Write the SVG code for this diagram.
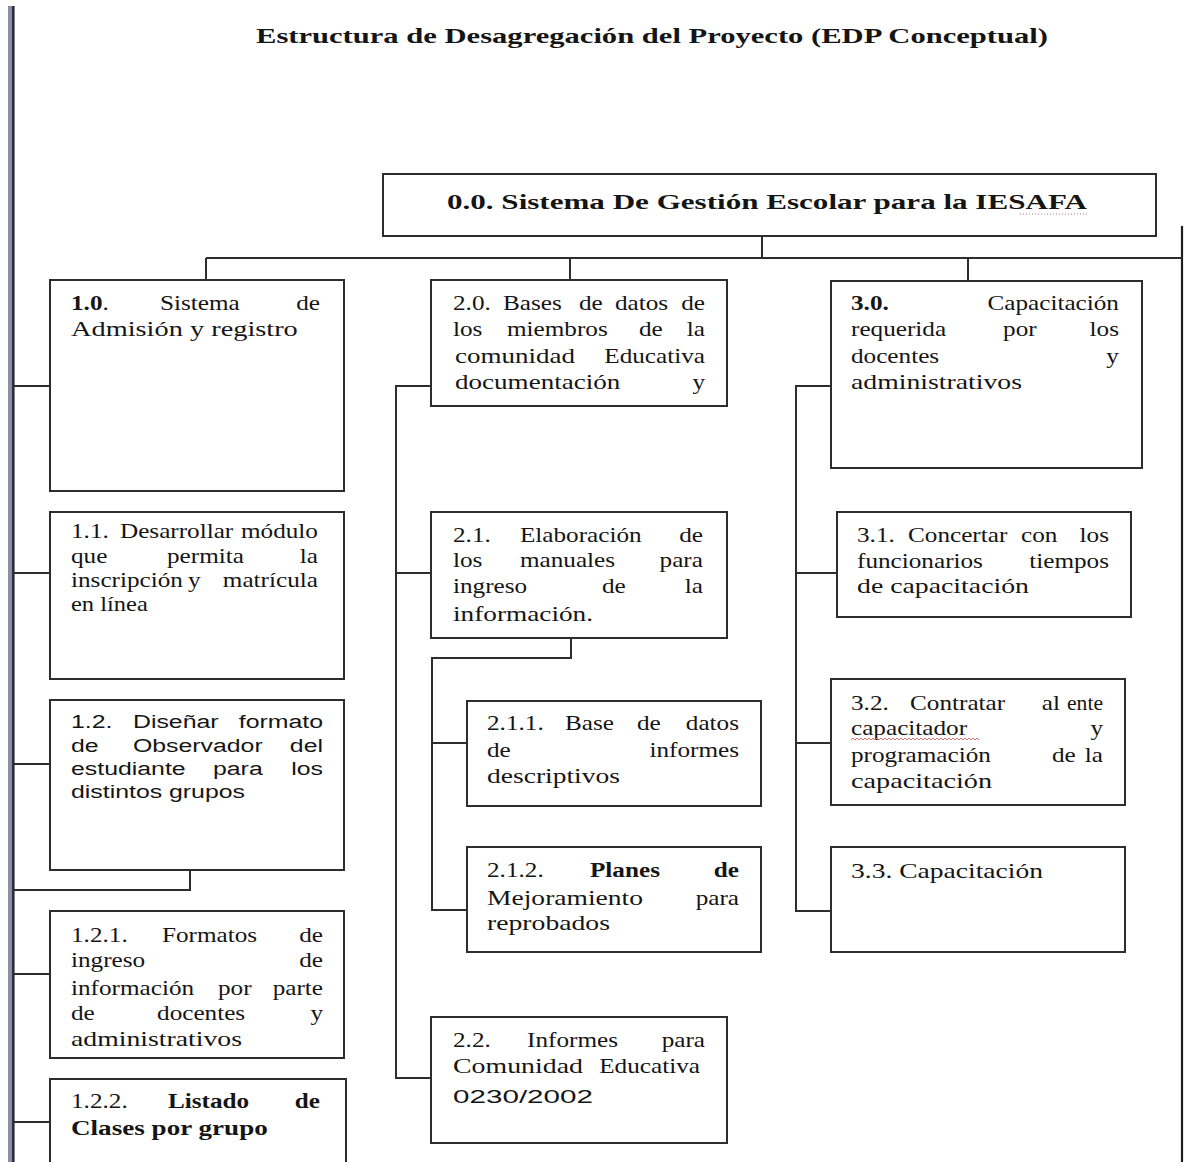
<svg xmlns="http://www.w3.org/2000/svg" width="1184" height="1162" viewBox="0 0 1184 1162">
  <style>
    .box { fill: #ffffff; stroke: #2d2d2d; stroke-width: 2; }
    .wire { fill: none; stroke: #2d2d2d; stroke-width: 2; }
    .t { font-family: "Liberation Serif", "Times New Roman", serif; font-size: 21px; fill: #151515; }
    .s { font-family: "Liberation Sans", Arial, sans-serif; font-size: 18px; fill: #151515; }
    .b { font-weight: bold; }
    .e { text-anchor: end; }
  </style>

  <rect x="0" y="0" width="1184" height="1162" fill="#ffffff"/>

  <!-- page margins -->
  <g id="page-edges">
    <rect x="8" y="6" width="4" height="1156" fill="#8b8fa6"/>
    <rect x="12" y="6" width="2.6" height="1156" fill="#2a2d38"/>
    <line x1="1182" y1="226" x2="1182" y2="1162" stroke="#1e1e1e" stroke-width="2.2"/>
  </g>

  <!-- title -->
  <text id="title" class="t b" x="256" y="43" font-size="25" textLength="792" lengthAdjust="spacingAndGlyphs">Estructura de Desagregación del Proyecto (EDP Conceptual)</text>

  <!-- connectors -->
  <g id="connectors" class="wire">
    <polyline points="762,236 762,258"/>
    <polyline points="206,258 1182,258"/>
    <polyline points="206,258 206,280"/>
    <polyline points="570,258 570,280"/>
    <polyline points="968,258 968,281"/>
    <!-- branch 1 -->
    <polyline points="14,386 50,386"/>
    <polyline points="14,573 50,573"/>
    <polyline points="14,764 50,764"/>
    <polyline points="190,870 190,890 14,890"/>
    <polyline points="14,974 50,974"/>
    <polyline points="14,1122 50,1122"/>
    <!-- branch 2 -->
    <polyline points="431,386 396,386 396,1078 431,1078"/>
    <polyline points="396,573 431,573"/>
    <polyline points="571,638 571,658 432,658 432,910 467,910"/>
    <polyline points="432,743 467,743"/>
    <!-- branch 3 -->
    <polyline points="831,386 796,386 796,911 831,911"/>
    <polyline points="796,573 837,573"/>
    <polyline points="796,743 831,743"/>
  </g>

  <!-- root -->
  <g id="n0">
    <rect class="box" x="383" y="174" width="773" height="62"/>
    <text class="t b" x="447" y="209" textLength="640" lengthAdjust="spacingAndGlyphs">0.0. Sistema De Gestión Escolar para la IESAFA</text>
    <line x1="1020" y1="214" x2="1088" y2="214" stroke="#b07a9a" stroke-width="1.2" stroke-dasharray="1 2"/>
  </g>

  <!-- 1.0 -->
  <g id="n1-0">
    <rect class="box" x="50" y="280" width="294" height="211"/>
    <g class="t" transform="translate(71 0) scale(1.2 1)">
      <text x="0" y="310"><tspan class="b">1.0</tspan>.</text>
      <text x="74.2" y="310">Sistema</text>
      <text class="e" x="207.5" y="310">de</text>
      <text x="0" y="336" textLength="189" lengthAdjust="spacingAndGlyphs">Admisión y registro</text>
    </g>
  </g>

  <!-- 1.1 -->
  <g id="n1-1">
    <rect class="box" x="50" y="512" width="294" height="167"/>
    <g class="t" transform="translate(71 0) scale(1.2 1)">
      <text x="0" y="538">1.1.</text>
      <text x="40.8" y="538">Desarrollar</text>
      <text class="e" x="205.8" y="538">módulo</text>
      <text x="0" y="563">que</text>
      <text x="80" y="563">permita</text>
      <text class="e" x="205.8" y="563">la</text>
      <text x="0" y="587">inscripción</text>
      <text x="97.5" y="587">y</text>
      <text class="e" x="205.8" y="587">matrícula</text>
      <text x="0" y="611" textLength="64" lengthAdjust="spacingAndGlyphs">en línea</text>
    </g>
  </g>

  <!-- 1.2 -->
  <g id="n1-2">
    <rect class="box" x="50" y="700" width="294" height="170"/>
    <g class="s" transform="translate(71 0) scale(1.38 1)">
      <text x="0" y="728">1.2.</text>
      <text x="44.9" y="728">Diseñar</text>
      <text class="e" x="182.6" y="728">formato</text>
      <text x="0" y="752">de</text>
      <text x="44.9" y="752">Observador</text>
      <text class="e" x="182.6" y="752">del</text>
      <text x="0" y="775">estudiante</text>
      <text x="102.9" y="775">para</text>
      <text class="e" x="182.6" y="775">los</text>
      <text x="0" y="798">distintos grupos</text>
    </g>
  </g>

  <!-- 1.2.1 -->
  <g id="n1-2-1">
    <rect class="box" x="50" y="911" width="294" height="147"/>
    <g class="t" transform="translate(71 0) scale(1.2 1)">
      <text x="0" y="942">1.2.1.</text>
      <text x="75.8" y="942">Formatos</text>
      <text class="e" x="210" y="942">de</text>
      <text x="0" y="967">ingreso</text>
      <text class="e" x="210" y="967">de</text>
      <text x="0" y="995">información</text>
      <text x="122.5" y="995">por</text>
      <text class="e" x="210" y="995">parte</text>
      <text x="0" y="1020">de</text>
      <text x="71.7" y="1020">docentes</text>
      <text class="e" x="210" y="1020">y</text>
      <text x="0" y="1046" textLength="142.5" lengthAdjust="spacingAndGlyphs">administrativos</text>
    </g>
  </g>

  <!-- 1.2.2 -->
  <g id="n1-2-2">
    <rect class="box" x="50" y="1079" width="296" height="100"/>
    <g class="t" transform="translate(71 0) scale(1.2 1)">
      <text x="0" y="1108">1.2.2.</text>
      <text class="b" x="80.8" y="1108">Listado</text>
      <text class="b e" x="207.5" y="1108">de</text>
      <text class="b" x="0" y="1135" textLength="164" lengthAdjust="spacingAndGlyphs">Clases por grupo</text>
    </g>
  </g>

  <!-- 2.0 -->
  <g id="n2-0">
    <rect class="box" x="431" y="280" width="296" height="126"/>
    <g class="t" transform="translate(453 0) scale(1.2 1)">
      <text x="0" y="310">2.0.</text>
      <text x="41.7" y="310">Bases</text>
      <text x="105" y="310">de</text>
      <text x="135" y="310">datos</text>
      <text class="e" x="210" y="310">de</text>
      <text x="0" y="336">los</text>
      <text x="45" y="336">miembros</text>
      <text x="155" y="336">de</text>
      <text class="e" x="210" y="336">la</text>
      <text x="1.7" y="363" textLength="100" lengthAdjust="spacingAndGlyphs">comunidad</text>
      <text class="e" x="210" y="363">Educativa</text>
      <text x="1.7" y="389" textLength="137.7" lengthAdjust="spacingAndGlyphs">documentación</text>
      <text class="e" x="210" y="389">y</text>
    </g>
  </g>

  <!-- 2.1 -->
  <g id="n2-1">
    <rect class="box" x="431" y="512" width="296" height="126"/>
    <g class="t" transform="translate(453 0) scale(1.2 1)">
      <text x="0" y="542">2.1.</text>
      <text x="55.8" y="542">Elaboración</text>
      <text class="e" x="208.3" y="542">de</text>
      <text x="0" y="567">los</text>
      <text x="55.8" y="567">manuales</text>
      <text class="e" x="208.3" y="567">para</text>
      <text x="0" y="593">ingreso</text>
      <text x="124.2" y="593">de</text>
      <text class="e" x="208.3" y="593">la</text>
      <text x="0" y="621" textLength="116.7" lengthAdjust="spacingAndGlyphs">información.</text>
    </g>
  </g>

  <!-- 2.1.1 -->
  <g id="n2-1-1">
    <rect class="box" x="467" y="701" width="294" height="105"/>
    <g class="t" transform="translate(487 0) scale(1.2 1)">
      <text x="0" y="730">2.1.1.</text>
      <text x="65" y="730">Base</text>
      <text x="125" y="730">de</text>
      <text class="e" x="210" y="730">datos</text>
      <text x="0" y="757">de</text>
      <text class="e" x="210" y="757">informes</text>
      <text x="0" y="783" textLength="110.8" lengthAdjust="spacingAndGlyphs">descriptivos</text>
    </g>
  </g>

  <!-- 2.1.2 -->
  <g id="n2-1-2">
    <rect class="box" x="467" y="847" width="294" height="105"/>
    <g class="t" transform="translate(487 0) scale(1.2 1)">
      <text x="0" y="877">2.1.2.</text>
      <text class="b" x="85.8" y="877">Planes</text>
      <text class="b e" x="210" y="877">de</text>
      <text x="0" y="905" textLength="130" lengthAdjust="spacingAndGlyphs">Mejoramiento</text>
      <text class="e" x="210" y="905">para</text>
      <text x="0" y="930" textLength="102.5" lengthAdjust="spacingAndGlyphs">reprobados</text>
    </g>
  </g>

  <!-- 2.2 -->
  <g id="n2-2">
    <rect class="box" x="431" y="1017" width="296" height="126"/>
    <g class="t" transform="translate(453 0) scale(1.2 1)">
      <text x="0" y="1047">2.2.</text>
      <text x="61.7" y="1047">Informes</text>
      <text class="e" x="210" y="1047">para</text>
      <text x="0" y="1073" textLength="108.3" lengthAdjust="spacingAndGlyphs">Comunidad</text>
      <text class="e" x="205.8" y="1073">Educativa</text>
    </g>
    <text class="s" x="453" y="1103" font-size="24" textLength="140" lengthAdjust="spacingAndGlyphs">0230/2002</text>
  </g>

  <!-- 3.0 -->
  <g id="n3-0">
    <rect class="box" x="831" y="281" width="311" height="187"/>
    <g class="t" transform="translate(851 0) scale(1.2 1)">
      <text class="b" x="0" y="310">3.0.</text>
      <text class="e" x="223.3" y="310">Capacitación</text>
      <text x="0" y="336">requerida</text>
      <text x="126.7" y="336">por</text>
      <text class="e" x="223.3" y="336">los</text>
      <text x="0" y="363">docentes</text>
      <text class="e" x="223.3" y="363">y</text>
      <text x="0" y="389" textLength="142.5" lengthAdjust="spacingAndGlyphs">administrativos</text>
    </g>
  </g>

  <!-- 3.1 -->
  <g id="n3-1">
    <rect class="box" x="837" y="512" width="294" height="105"/>
    <g class="t" transform="translate(857 0) scale(1.2 1)">
      <text x="0" y="542">3.1.</text>
      <text x="42.5" y="542">Concertar</text>
      <text x="136.7" y="542">con</text>
      <text class="e" x="210" y="542">los</text>
      <text x="0" y="568">funcionarios</text>
      <text class="e" x="210" y="568">tiempos</text>
      <text x="0" y="593" textLength="143.3" lengthAdjust="spacingAndGlyphs">de capacitación</text>
    </g>
  </g>

  <!-- 3.2 -->
  <g id="n3-2">
    <rect class="box" x="831" y="679" width="294" height="126"/>
    <g class="t" transform="translate(851 0) scale(1.2 1)">
      <text x="0" y="710">3.2.</text>
      <text x="49.2" y="710">Contratar</text>
      <text x="159" y="710">al</text>
      <text class="e" x="210" y="710" textLength="30" lengthAdjust="spacingAndGlyphs">ente</text>
      <text x="0" y="735">capacitador</text>
      <text class="e" x="210" y="735">y</text>
      <text x="0" y="762">programación</text>
      <text x="167.5" y="762">de</text>
      <text class="e" x="210" y="762">la</text>
      <text x="0" y="788" textLength="117.5" lengthAdjust="spacingAndGlyphs">capacitación</text>
    </g>
    <path d="M851 740 l2 -2 l2 2 l2 -2 l2 2 l2 -2 l2 2 l2 -2 l2 2 l2 -2 l2 2 l2 -2 l2 2 l2 -2 l2 2 l2 -2 l2 2 l2 -2 l2 2 l2 -2 l2 2 l2 -2 l2 2 l2 -2 l2 2 l2 -2 l2 2 l2 -2 l2 2 l2 -2 l2 2 l2 -2 l2 2 l2 -2 l2 2 l2 -2 l2 2 l2 -2 l2 2 l2 -2 l2 2 l2 -2 l2 2 l2 -2 l2 2 l2 -2 l2 2 l2 -2 l2 2 l2 -2 l2 2 l2 -2 l2 2 l2 -2 l2 2 l2 -2 l2 2 l2 -2 l2 2 l2 -2 l2 2 l2 -2 l2 2 l2 -2 l2 2" fill="none" stroke="#e07070" stroke-width="1"/>
  </g>

  <!-- 3.3 -->
  <g id="n3-3">
    <rect class="box" x="831" y="847" width="294" height="105"/>
    <g class="t" transform="translate(851 0) scale(1.2 1)">
      <text x="0" y="878" textLength="160" lengthAdjust="spacingAndGlyphs">3.3. Capacitación</text>
    </g>
  </g>
</svg>
